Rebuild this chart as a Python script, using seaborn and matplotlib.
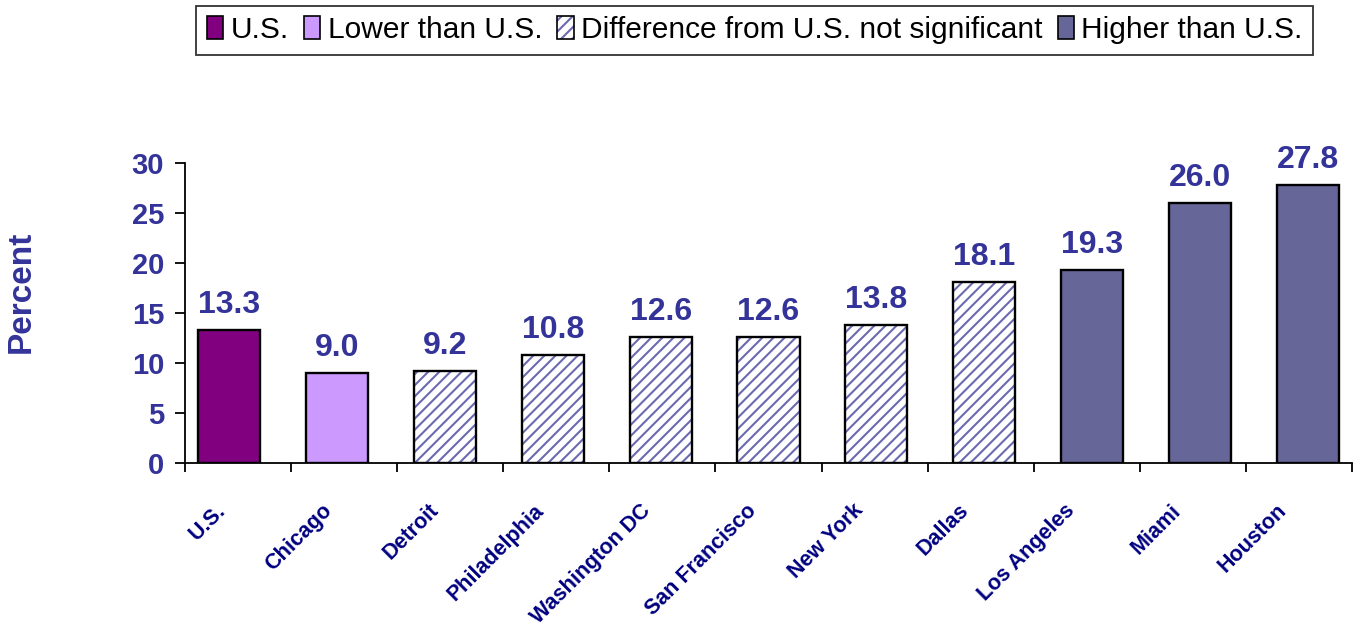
import numpy as np
import matplotlib
matplotlib.use("Agg")
import matplotlib.pyplot as plt
import matplotlib.transforms as mtransforms
from matplotlib.patches import Patch
import seaborn as sns

# chart data
cities = ["U.S.", "Chicago", "Detroit", "Philadelphia", "Washington DC",
          "San Francisco", "New York", "Dallas", "Los Angeles", "Miami", "Houston"]
percent = [13.3, 9.0, 9.2, 10.8, 12.6, 12.6, 13.8, 18.1, 19.3, 26.0, 27.8]
groups = ["U.S.", "Lower than U.S.", "Difference from U.S. not significant",
          "Difference from U.S. not significant", "Difference from U.S. not significant",
          "Difference from U.S. not significant", "Difference from U.S. not significant",
          "Difference from U.S. not significant", "Higher than U.S.",
          "Higher than U.S.", "Higher than U.S."]
group_order = ["U.S.", "Lower than U.S.", "Difference from U.S. not significant",
               "Higher than U.S."]

colors = {"U.S.": "#800080", "Lower than U.S.": "#CC99FF",
          "Difference from U.S. not significant": "#FFFFFF",
          "Higher than U.S.": "#666699"}
hatch_col = "#6A6AB0"
label_col = "#333399"
tick_col = "#000080"

sns.set_theme(style="ticks")
plt.rcParams["font.family"] = ["Liberation Sans", "DejaVu Sans"]
plt.rcParams["hatch.linewidth"] = 1.5

fig = plt.figure(figsize=(13.55, 6.42), dpi=100)
ax = fig.add_axes([185 / 1355, 1 - 463 / 642, (1352 - 185) / 1355, 300 / 642])

bar_w = 0.575
sns.barplot(x=cities, y=percent, hue=groups, hue_order=group_order,
            palette=colors, dodge=False, width=bar_w, errorbar=None,
            saturation=1, legend=False, linewidth=0, ax=ax)

# hatch the "not significant" bars
for cont in ax.containers:
    for p in cont:
        if p.get_facecolor()[:3] == (1.0, 1.0, 1.0):
            p.set_hatch("///")
            p.set_edgecolor(hatch_col)
            p.set_linewidth(0)

# black outlines on top
sns.barplot(x=cities, y=percent, color="black", fill=False, width=bar_w,
            errorbar=None, linewidth=1.7, ax=ax)
outline = ax.containers[-1]
ax.bar_label(outline, fmt="%.1f", padding=7, color=label_col,
             fontsize=23, fontweight="bold", clip_on=False)

ax.set_ylim(0, 30)
x0, x1 = -44 / 107.9, (1352 - 229) / 107.9
ax.set_xlim(x0, x1)
edges = np.linspace(x0, x1, 12)
ax.set_yticks(np.arange(0, 31, 5))
ax.set_xticks(edges, minor=True)
ax.tick_params(axis="y", length=7, width=1.3, pad=8, labelsize=21,
               labelcolor=label_col, color="black")
for t in ax.get_yticklabels():
    t.set_fontweight("bold")
ax.tick_params(axis="x", which="major", length=0, pad=22)
ax.tick_params(axis="x", which="minor", length=6.5, width=1.3, color="black")
ax.set_xticks((edges[:-1] + edges[1:]) / 2)
ax.set_xticklabels(cities, rotation=45, ha="right", va="center",
                   rotation_mode="anchor", fontsize=15.5, fontweight="bold",
                   color=tick_col)
shift = mtransforms.ScaledTranslation(-0.15, -0.14, fig.dpi_scale_trans)
for t in ax.get_xticklabels():
    t.set_transform(t.get_transform() + shift)

ax.set_xlabel("")
ax.set_ylabel("Percent", fontsize=24, fontweight="bold", color=label_col,
              va="center")
ax.yaxis.set_label_coords((21 - 185) / 1167, (463 - 292) / 300)

for s in ["top", "right"]:
    ax.spines[s].set_visible(False)
for s in ["left", "bottom"]:
    ax.spines[s].set_color("black")
    ax.spines[s].set_linewidth(1.3)

# legend
handles = []
for g in group_order:
    if g == "Difference from U.S. not significant":
        h = (Patch(facecolor="white", edgecolor=hatch_col, hatch="///", linewidth=0),
             Patch(facecolor="none", edgecolor="black", linewidth=1.2))
    else:
        h = Patch(facecolor=colors[g], edgecolor="black", linewidth=1.2)
    handles.append(h)
leg = fig.legend(handles, group_order, loc="center", bbox_to_anchor=(0.557, 0.953),
                 ncol=4, fontsize=21.5, frameon=True, fancybox=False, shadow=False,
                 handlelength=0.55, handleheight=0.8, handletextpad=0.25,
                 columnspacing=0.5, borderpad=0.35, borderaxespad=0)
leg.get_frame().set_edgecolor("black")
leg.get_frame().set_linewidth(1.3)
for t in leg.get_texts():
    t.set_color("black")

fig.savefig("out.png", dpi=100, facecolor="white")
